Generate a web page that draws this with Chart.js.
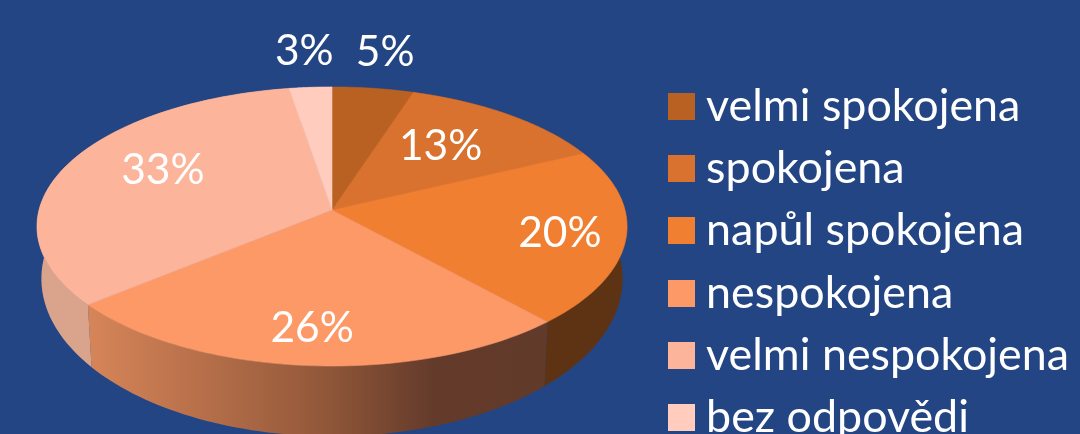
<!DOCTYPE html>
<html><head><meta charset="utf-8">
<script src="https://cdn.jsdelivr.net/npm/chart.js@4"></script>
<style>html,body{margin:0;padding:0;width:1080px;height:434px;overflow:hidden;background:#234583}canvas{display:block}</style>
</head><body><canvas id="c" width="1080" height="524"></canvas>
<script>
const categories = ['velmi spokojena','spokojena','napůl spokojena','nespokojena','velmi nespokojena','bez odpovědi'];
const shares = [5.0,12.9,20.4,25.7,33.4,2.6];

const faceColors = ['#B96023','#D8722E','#F07F32','#FD9867','#FCB49B','#FFCCBE'];
const wallColors = [['#7a4017','#7a4017'],['#6a3a18','#6a3a18'],['#5E3314','#5E3314'],
                    ['#D68558','#B66F4A','#94593A','#643B2B','#623A2A'],['#DAA48C','#DAA48C'],['#DDB0A0','#DDB0A0']];
const FONT = 'Lato';
const CX=332, CY=210, RX=293, A=137.6, K=-0.118;
const labelReach=[1.34,0.63,0.78,0.78,0.67,1.34];
const labelTurn=[0,-2.7,1,0.4,6.3,0];
const project=(r,t,lower)=>{
  const u=r*Math.sin(t), v=-r*Math.cos(t), w=1+K*v;
  return lower ? [CX+RX*0.985*u/w, CY+50+A*1.13*v/w] : [CX+RX*u/w, CY+A*v/w];
};
const theta=a=>a+Math.PI/2;
function swatch(color){
  const s=document.createElement('canvas'); s.width=27; s.height=27;
  const g=s.getContext('2d'); g.fillStyle=color; g.fillRect(0,0,27,27); return s;
}
const perspective={
  id:'perspective',
  beforeDatasetDraw(chart,args){
    const ctx=chart.ctx, arcs=args.meta.data, N=64;
    ctx.save();
    arcs.forEach((el,i)=>{
      const t0=theta(el.startAngle), t1=theta(el.endAngle);
      ctx.beginPath();
      let xmin=1e9,xmax=-1e9;
      for(let s=0;s<=N;s++){const p=project(1,t0+(t1-t0)*s/N,false); s?ctx.lineTo(p[0],p[1]):ctx.moveTo(p[0],p[1]); xmin=Math.min(xmin,p[0]);xmax=Math.max(xmax,p[0]);}
      for(let s=N;s>=0;s--){const p=project(1,t0+(t1-t0)*s/N,true); ctx.lineTo(p[0],p[1]);}
      ctx.closePath();
      const g=ctx.createLinearGradient(xmin,0,xmax,0), st=wallColors[i];
      st.forEach((c,j)=>g.addColorStop(j/(st.length-1),c));
      ctx.fillStyle=g; ctx.fill();
    });
    arcs.forEach((el,i)=>{
      const t0=theta(el.startAngle), t1=theta(el.endAngle), c=project(0,0,false);
      ctx.beginPath(); ctx.moveTo(c[0],c[1]);
      for(let s=0;s<=N;s++){const p=project(1,t0+(t1-t0)*s/N,false); ctx.lineTo(p[0],p[1]);}
      ctx.closePath(); ctx.fillStyle=faceColors[i]; ctx.strokeStyle=faceColors[i]; ctx.lineWidth=0.6; ctx.stroke(); ctx.fill();
    });
    ctx.fillStyle='#fff'; ctx.font='42.5px '+FONT; ctx.textAlign='center'; ctx.textBaseline='middle';
    const total=shares.reduce((a,b)=>a+b,0);
    arcs.forEach((el,i)=>{
      const p=project(labelReach[i],theta((el.startAngle+el.endAngle)/2)+labelTurn[i]*Math.PI/180,false);
      ctx.fillText(Math.round(shares[i]/total*100)+'%',p[0],p[1]);
    });
    ctx.restore();
    return false;
  }
};
new Chart(document.getElementById('c'),{
  type:'pie',
  data:{labels:categories,datasets:[{data:shares,backgroundColor:faceColors,borderWidth:0}]},
  options:{
    responsive:false,animation:false,devicePixelRatio:1,
    layout:{padding:{left:0,right:1,top:0,bottom:0}},
    plugins:{
      tooltip:{enabled:false},
      legend:{position:'right',align:'center',
        labels:{color:'#fff',font:{family:FONT,size:44.8},boxWidth:4,boxHeight:27,padding:17.5,usePointStyle:true,
          generateLabels(chart){
            return Chart.overrides.pie.plugins.legend.labels.generateLabels(chart).map((l,i)=>({...l,pointStyle:swatch(faceColors[i])}));
          }}}
    }
  },
  plugins:[perspective]
});
</script></body></html>
